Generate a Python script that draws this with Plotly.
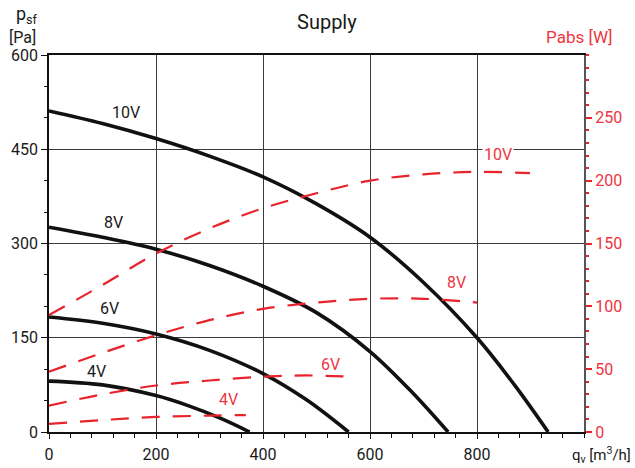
import plotly.graph_objects as go

# ---------------- data ----------------
# pressure curves (q_v [m3/h], p_sf [Pa])
q_10v = [0, 100, 200, 300, 400, 500, 600, 700, 800, 870, 933]
p_10v = [511, 491, 467, 439, 406, 363, 310, 238, 150, 75, 0]
q_8v = [0, 100, 200, 300, 400, 500, 600, 680, 746]
p_8v = [326, 310, 291, 265, 232, 190, 128, 62, 0]
q_6v = [0, 100, 200, 300, 400, 480, 560]
p_6v = [183, 173, 156, 130, 93, 52, 0]
q_4v = [0, 100, 200, 260, 320, 375]
p_4v = [81, 75, 58, 42, 22, 0]

# absorbed power curves (q_v [m3/h], Pabs [W])
qw_10v = [0, 100, 200, 300, 400, 500, 600, 700, 800, 899]
w_10v = [93, 117, 142, 162, 178, 190, 200, 205, 207, 206]
qw_8v = [0, 100, 200, 300, 400, 500, 600, 700, 800]
w_8v = [48, 63, 77, 89, 98, 103, 106, 106, 103]
qw_6v = [0, 100, 200, 300, 400, 480, 566]
w_6v = [21, 30, 37, 41, 44, 45, 44]
qw_4v = [0, 100, 200, 300, 368]
w_4v = [6.4, 9.5, 12, 13, 13.5]

curve_names = ["10V", "8V", "6V", "4V"]
x_ticks = [0, 200, 400, 600, 800]
y_ticks = [0, 150, 300, 450, 600]
y2_ticks = [0, 50, 100, 150, 200, 250]

# ---------------- style ----------------
BLACK = "#111111"
RED = "#e8232c"
RED_TXT = "#ee3540"
GRID = "#3a3a3a"
FONT = "Roboto"

W, H = 635, 468
L, R, T, B = 49, 51, 55, 36
PW, PH = W - L - R, H - T - B


def px(x):
    return (x - L) / PW


def py(y):
    return (H - B - y) / PH


fig = go.Figure()

for name, q, p in zip(curve_names, [q_10v, q_8v, q_6v, q_4v], [p_10v, p_8v, p_6v, p_4v]):
    fig.add_trace(go.Scatter(x=q, y=p, mode="lines", name=name,
                             line=dict(color=BLACK, width=3.6, shape="spline", smoothing=1.0),
                             showlegend=False, hoverinfo="skip"))

for name, q, w in zip(curve_names, [qw_10v, qw_8v, qw_6v, qw_4v], [w_10v, w_8v, w_6v, w_4v]):
    fig.add_trace(go.Scatter(x=q, y=w, mode="lines", name=name + " Pabs", yaxis="y2",
                             line=dict(color=RED, width=2.2, dash="18px,13px", shape="spline", smoothing=1.0),
                             showlegend=False, hoverinfo="skip"))

# curve labels
black_lab_pos = [(144, 508), (120, 333), (114, 197), (88, 96)]
red_lab_pos = [(839, 221), (761, 119), (527, 54), (335, 25.5)]
for name, (x, y) in zip(curve_names, black_lab_pos):
    fig.add_annotation(x=x, y=y, xref="x", yref="y", text=name, showarrow=False,
                       xanchor="center", yanchor="middle",
                       font=dict(family=FONT, size=16, color="#1a1a1a"))
for i, (name, (x, y)) in enumerate(zip(curve_names, red_lab_pos)):
    fig.add_annotation(x=x, y=y, xref="x", yref="y2", text=name, showarrow=False,
                       xanchor="center", yanchor="middle",
                       font=dict(family=FONT, size=16, color=RED_TXT),
                       bgcolor="white" if i == 0 else "rgba(0,0,0,0)", borderpad=1)

# chart title and axis titles (pixel-placed)
outer = [
    ("Supply", 327, 22, 20, "#1a1a1a"),
    ("p<sub>sf</sub>", 27, 15, 18, "#1a1a1a"),
    ("[Pa]", 22, 38, 16, "#1a1a1a"),
    ("Pabs [W]", 579, 37, 17, RED_TXT),
    ("q<sub>v</sub> [m<sup>3</sup>/h]", 601, 455, 15, "#1a1a1a"),
]
for text, x, y, size, color in outer:
    fig.add_annotation(x=px(x), y=py(y), xref="paper", yref="paper", text=text,
                       showarrow=False, xanchor="center", yanchor="middle",
                       font=dict(family=FONT, size=size, color=color))

fig.update_layout(
    width=W, height=H,
    margin=dict(l=L, r=R, t=T, b=B, pad=0, autoexpand=False),
    paper_bgcolor="white", plot_bgcolor="white",
    font=dict(family=FONT, size=16, color="#1a1a1a"),
    xaxis=dict(range=[0, 1000], tickvals=x_ticks, ticktext=[str(v) for v in x_ticks],
               showgrid=True, gridcolor=GRID, gridwidth=1.2, automargin=False,
               showline=True, linecolor=BLACK, linewidth=1.5, mirror=True,
               ticks="outside", ticklen=5, tickcolor=BLACK, tickwidth=1,
               ticklabelstandoff=2,
               minor=dict(dtick=40, tick0=0, ticks="outside", ticklen=4, tickcolor=BLACK, showgrid=False),
               zeroline=False, tickfont=dict(size=16, color="#1a1a1a")),
    yaxis=dict(range=[0, 600], tickvals=y_ticks, ticktext=[str(v) for v in y_ticks],
               showgrid=True, gridcolor=GRID, gridwidth=1.2, automargin=False,
               showline=True, linecolor=BLACK, linewidth=1.5,
               ticks="outside", ticklen=6, tickcolor=BLACK, tickwidth=1,
               minor=dict(dtick=50, tick0=0, ticks="outside", ticklen=3, tickcolor=BLACK, showgrid=False),
               zeroline=False, tickfont=dict(size=16, color="#1a1a1a")),
    yaxis2=dict(range=[0, 300], overlaying="y", side="right",
                tickvals=y2_ticks, ticktext=[str(v) for v in y2_ticks],
                showgrid=False, zeroline=False, automargin=False,
                showline=True, linecolor="#555555", linewidth=2,
                ticks="outside", ticklen=6, tickcolor=RED, tickwidth=1.5,
                minor=dict(dtick=10, tick0=0, ticks="outside", ticklen=3, tickcolor=RED, showgrid=False),
                tickfont=dict(size=16, color=RED_TXT)),
)

fig.write_html("out.html")
